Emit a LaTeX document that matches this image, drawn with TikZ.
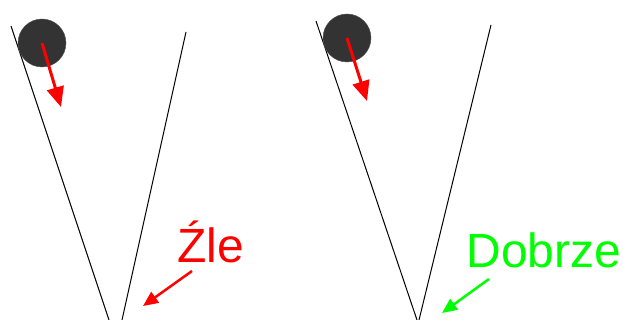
\documentclass[tikz,border=0pt]{standalone}
\usepackage{fontspec}
\setmainfont{Liberation Sans}
\usepackage{xcolor}
\usepackage{tikz}
\usetikzlibrary{arrows.meta}
\usetikzlibrary{backgrounds,positioning}
\pgfdeclarelayer{edgelayer}
\pgfdeclarelayer{nodelayer}
\pgfsetlayers{background,edgelayer,nodelayer,main}
\definecolor{ballgray}{RGB}{51,51,51}
\definecolor{badred}{RGB}{255,0,0}
\definecolor{goodgreen}{RGB}{0,255,0}
\tikzstyle{none}=[inner sep=0mm]
\tikzstyle{wall}=[draw=black,line width=1pt]
\tikzstyle{ball}=[shape=circle,fill=ballgray,draw=ballgray!85,minimum size=48pt,inner sep=0pt]
\tikzstyle{fall}=[draw=badred,line width=3pt,-{Triangle[length=20pt,width=17pt]}]
\tikzstyle{pointer}=[line width=2.5pt,-{Triangle[length=15pt,width=13pt]}]
\tikzstyle{verdict}=[inner sep=0pt,anchor=base,font=\fontsize{48}{48}\selectfont]

\begin{document}
\begin{tikzpicture}[x=1pt,y=-1pt]
	\useasboundingbox (0,0) rectangle (623,320);
	\begin{pgfonlayer}{nodelayer}
		\node [style=ball] (b1) at (42, 43) {};
		\node [style=ball] (b2) at (347, 38) {};
		\node [style=verdict,text=badred] (bad) at (211, 262) {Źle};
		\node [style=verdict,text=goodgreen] (good) at (544, 267) {Dobrze};
	\end{pgfonlayer}
	\coordinate (w1a) at (11, 26);
	\coordinate (w1b) at (109, 320);
	\coordinate (w2a) at (186, 32);
	\coordinate (w2b) at (122, 320);
	\coordinate (w3a) at (316, 21);
	\coordinate (w3b) at (417, 320);
	\coordinate (w4a) at (491, 25);
	\coordinate (w4b) at (419, 320);
	\coordinate (f1) at (61, 107);
	\coordinate (f2) at (367, 101);
	\coordinate (p1a) at (192, 271);
	\coordinate (p1b) at (143, 306);
	\coordinate (p2a) at (489, 279);
	\coordinate (p2b) at (442, 313);
	\begin{pgfonlayer}{edgelayer}
		\draw [style=wall] (w1a) to (w1b);
		\draw [style=wall] (w2a) to (w2b);
		\draw [style=wall] (w3a) to (w3b);
		\draw [style=wall] (w4a) to (w4b);
	\end{pgfonlayer}
	\draw [style=fall] (b1.center) to (f1);
	\draw [style=fall] (b2.center) to (f2);
	\draw [style=pointer,draw=badred,fill=badred] (p1a) to (p1b);
	\draw [style=pointer,draw=goodgreen,fill=goodgreen] (p2a) to (p2b);
\end{tikzpicture}
\end{document}
